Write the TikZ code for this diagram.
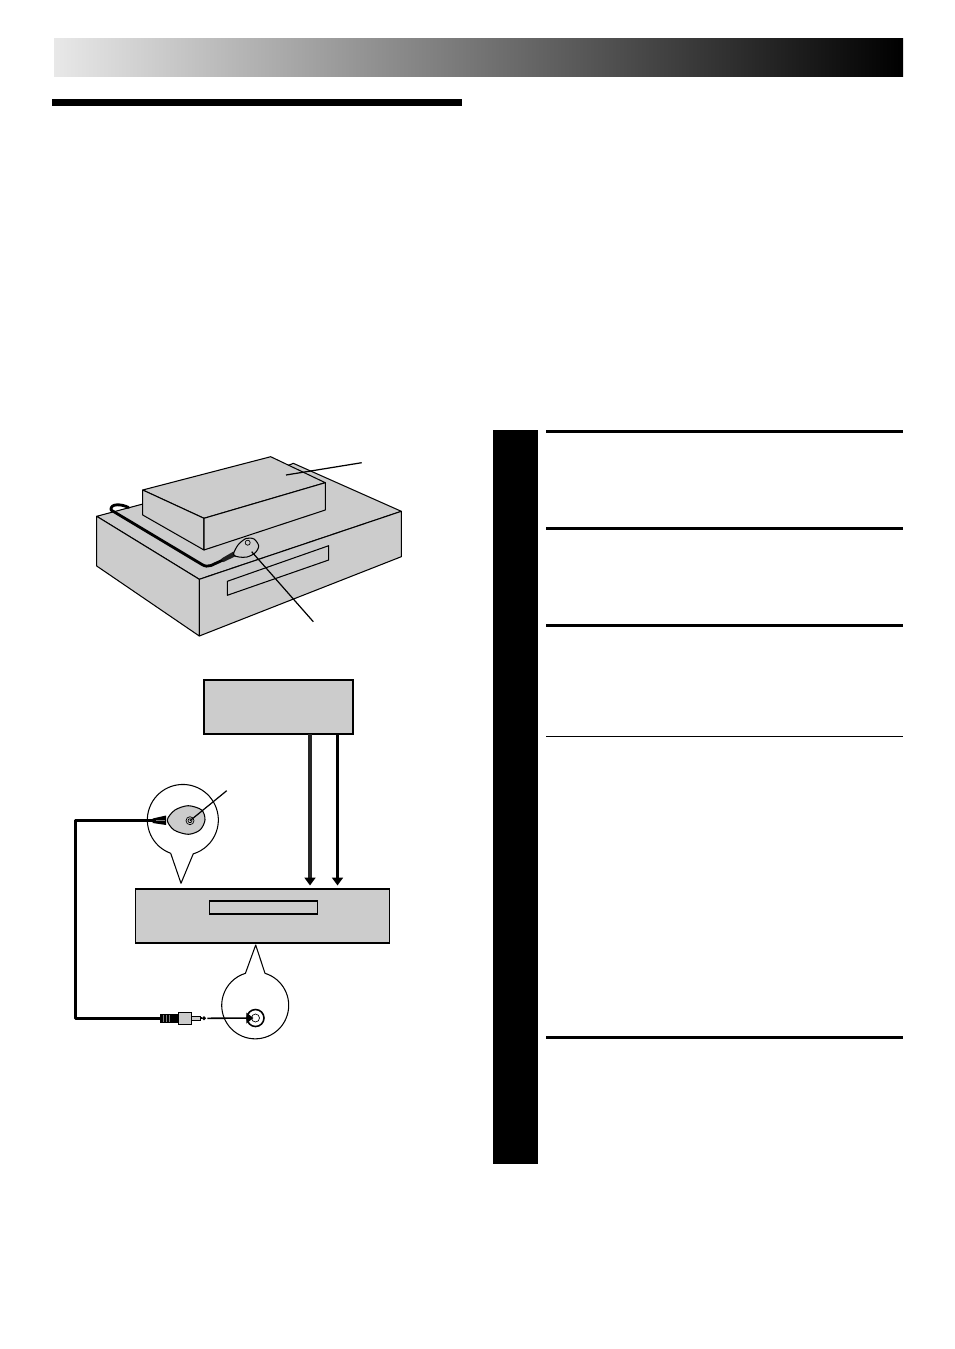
\documentclass[tikz,border=0pt]{standalone}
\definecolor{panelgray}{gray}{0.8}
\usetikzlibrary{
    arrows.meta,
    positioning,
    calc
}
\tikzstyle{panel} = [
    rectangle,
    draw=black,
    fill=panelgray,
    line width=0.6pt,
    inner sep=0pt
]
\tikzstyle{face} = [
    draw=black,
    fill=panelgray,
    line width=0.6pt,
    line join=round
]
\tikzstyle{bubble} = [
    draw=black,
    fill=white,
    line width=0.6pt,
    line join=round
]
\tikzstyle{rulebar} = [
    fill=black
]
\tikzstyle{cable} = [
    line width=1.7pt,
    line join=round,
    draw=black
]
\tikzstyle{leader} = [
    line width=0.7pt,
    draw=black
]
\tikzstyle{signal} = [
    -{Triangle[black,width=6.2pt,length=4.5pt]},
    line width=1.8pt,
    shorten >=1.7pt
]
\begin{document}
\begin{tikzpicture}[x=0.02cm,y=-0.02cm]
    \useasboundingbox (0,0) rectangle (954,1349);

    % Page header
    \shade[left color=gray!18, right color=black] (54,38) rectangle (903,76);
    \fill[rulebar] (52,99) rectangle (462,106);

    % Side column and rules
    \fill[rulebar] (493,430) rectangle (538,1164);
    \fill[rulebar] (546,430) rectangle (903,433);
    \fill[rulebar] (546,527) rectangle (903,530);
    \fill[rulebar] (546,624) rectangle (903,627);
    \fill[rulebar] (546,736) rectangle (903,737);
    \fill[rulebar] (546,1036) rectangle (903,1039);

    % Recorder in perspective
    \draw[face] (96.7,516.3) -- (289.3,465) -- (293.3,463.3) -- (401.3,511.3) -- (199.3,579.3) -- cycle;
    \draw[face] (96.7,516.3) -- (199.3,579.3) -- (199.3,636) -- (96.7,566) -- cycle;
    \draw[face] (199.3,579.3) -- (401.3,511.3) -- (401.3,556.7) -- (199.3,636) -- cycle;
    \draw[face] (227.3,581.3) -- (328.7,545.7) -- (328.7,560) -- (227.3,595.3) -- cycle;

    % Camera on top
    \draw[face] (142.7,490) -- (270.7,456.7) -- (325.3,482.7) -- (204,518.3) -- cycle;
    \draw[face] (142.7,490) -- (204,518.3) -- (204,550) -- (142.7,515) -- cycle;
    \draw[face] (204,518.3) -- (325.3,482.7) -- (325.3,510) -- (204,550) -- cycle;

    % Cable and sensor on the recorder
    \draw[cable, line width=1.6pt, line cap=round] (128.5,507.5) .. controls (122,504) and (110,503) .. (111,510)
        -- (202,564.5) .. controls (205,566.5) and (208,566.5) .. (211,565.5) -- (223,560);
    \fill[black!88] (221.5,558.5) -- (233.5,551.5) -- (236,556) -- (223.5,562) -- cycle;
    \draw[face] plot[smooth cycle] coordinates {(233.5,554.5) (238,545) (246,538.5) (254,539) (258.7,546) (255,553) (247,557) (239,557)};
    \draw[line width=0.4pt] (247.7,542.7) circle (2.5);
    \coordinate (lensA) at (251.7,551.7);
    \coordinate (lensB) at (313.3,621.7);
    \draw[leader] (lensA) -- (lensB);
    \coordinate (topA) at (286,475);
    \coordinate (topB) at (361.7,462.7);
    \draw[leader] (topA) -- (topB);

    % Block diagram
    \node[panel, minimum width=2.98cm, minimum height=1.08cm] (camera) at (278.5,707) {};
    \node[panel, minimum width=5.07cm, minimum height=1.08cm] (vcr) at (262.5,916) {};
    \node[panel, minimum width=2.17cm, minimum height=0.26cm] (slot) at (263.5,907.5) {};
    \coordinate (outA) at (310,734);
    \coordinate (outB) at (337.5,734);
    \draw[signal, draw=black!85] (outA) -- (outA |- vcr.north);
    \draw[signal] (outB) -- (outB |- vcr.north);

    % Sensor callout
    \draw[bubble] (170.7,853.3) arc[start angle=250, end angle=-73, radius=0.71cm]
        -- (181,883.3) -- cycle;
    \draw[face] plot[smooth cycle] coordinates {(167.3,820) (175,810) (188.3,805.7) (201.7,810) (205,820) (200,830) (188.3,834.3) (174,830)};
    \fill[black] (152.7,818.5) -- (166,815.5) -- (166,825) -- (152.7,823) -- cycle;
    \draw[gray, line width=0.5pt] (156,820.7) -- (165,820.7);
    \node[draw, circle, line width=0.4pt, minimum size=0.16cm, inner sep=0pt] (lens) at (190,820.7) {};
    \draw[line width=0.4pt] (lens) circle (2);
    \coordinate (lensTag) at (226.7,790.7);
    \draw[leader] (lens.center) -- (lensTag);
    \coordinate (plugTop) at (153,820.7);

    % Jack callout
    \draw[bubble] (265,973.3) arc[start angle=73, end angle=-253, radius=0.67cm]
        -- (255.7,945) -- cycle;
    \node[draw, circle, line width=0.9pt, minimum size=0.34cm, inner sep=0pt] (jack) at (255.5,1018) {};
    \draw[line width=0.4pt] (jack.center) circle (4);

    % Plug
    \node[fill=black, minimum width=0.36cm, minimum height=0.18cm, inner sep=0pt] (plugRidge) at (169,1018.3) {};
    \draw[gray, line width=0.4pt] (163,1014.5) -- (163,1022) (166,1014.5) -- (166,1022) (169,1014.5) -- (169,1022);
    \node[panel, line width=0.5pt, minimum width=0.27cm, minimum height=0.23cm] (plugBody) at (185,1018.3) {};
    \node[panel, line width=0.5pt, minimum width=0.17cm, minimum height=0.09cm] (plugTip) at (196,1018.3) {};
    \node[draw, fill=panelgray, circle, line width=0.7pt, minimum size=0.05cm, inner sep=0pt] (plugEnd) at (204,1018.3) {};
    \draw[line width=1pt] (plugTip.east) -- (plugEnd);
    \coordinate (lineStart) at (207.3,1018.3);

    % Connections
    \draw[cable] (plugTop) -- (75.7,820.7) -- (75.7,1018.3) -- (plugRidge.west);
    \draw[-{Triangle[width=6pt,length=4pt]}, line width=0.9pt, shorten >=1.2pt] (lineStart) -- (jack.center);
\end{tikzpicture}
\end{document}
